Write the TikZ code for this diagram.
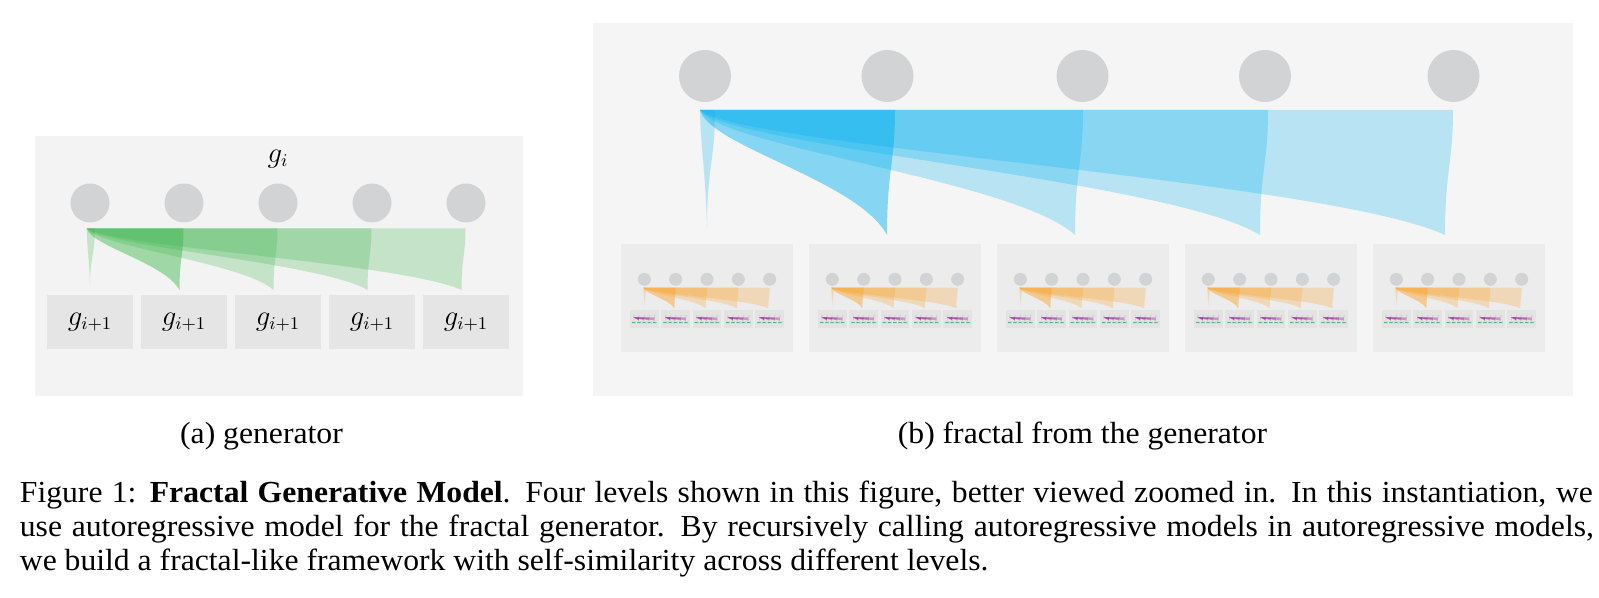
\documentclass[tikz,border=0pt]{standalone}
\usepackage[no-math]{fontspec}
\newfontfamily\capfont{Liberation Serif}[FakeStretch=1.035]
\usetikzlibrary{calc}

% colours
\definecolor{pagewhite}{RGB}{255,255,255}
\definecolor{panelA}{RGB}{243,243,243}
\definecolor{panelB}{RGB}{245,245,245}
\definecolor{boxA}{RGB}{229,229,229}
\definecolor{lvbox2}{RGB}{236,236,236}
\definecolor{lvbox3}{RGB}{227,227,227}
\definecolor{lvbox4}{RGB}{222,222,222}
\definecolor{lvbox5}{RGB}{215,222,218}
\definecolor{dotgray}{RGB}{209,211,212}
\definecolor{fanA}{RGB}{57,181,74}
\definecolor{fan1}{RGB}{0,176,240}
\definecolor{fan2}{RGB}{250,166,50}
\definecolor{fan3}{RGB}{146,39,143}
\definecolor{fan4}{RGB}{40,165,100}

\tikzset{
  dot/.style={fill=dotgray},
  capt/.style={font=\capfont\fontsize{15.3}{17}\selectfont, inner sep=0pt},
  mathlbl/.style={font=\fontsize{13.5}{16}\selectfont, inner sep=0pt},
  genbox/.style={fill=boxA, inner sep=0pt, minimum width=43pt, minimum height=27pt,
    font=\fontsize{13.5}{16}\selectfont},
}

% opacity factor of the fans of the current level
\def\fgopk{1}

% one curved fan: start x, top y, top-right x, tip x, tip y, opacity (colour in \fgcol)
\newcommand\fgFan[6]{%
  \pgfmathsetmacro\fgW{(#4)-(#1)}%
  \pgfmathsetmacro\fgH{(#5)-(#2)}%
  \pgfmathsetmacro\fgAy{(#2)+0.43*\fgH}%
  \pgfmathsetmacro\fgBy{(#2)+0.48*\fgH}%
  \pgfmathsetmacro\fgCx{(#1)+0.84*\fgW}%
  \pgfmathsetmacro\fgCy{(#2)+0.56*\fgH}%
  \pgfmathsetmacro\fgDx{(#1)+0.054*\fgW}%
  \pgfmathsetmacro\fgDy{(#2)+0.293*\fgH}%
  \pgfmathsetmacro\fgOp{min(0.95,(#6)*\fgopk)}%
  \fill[fill=\fgcol, fill opacity=\fgOp] (#1,#2) -- (#3,#2)
    .. controls (#3,\fgAy) and (#4,\fgBy) .. (#4,#5)
    .. controls (\fgCx,\fgCy) and (\fgDx,\fgDy) .. (#1,#2) -- cycle;
}

% the five fans of one generator:
% start x, top y, tip y, tip inset, spike top x, spike tip x, top-right x of fans 2..5
\newcommand\fgFans[7]{%
  \pgfmathsetmacro\fgSpY{(#3)-0.055*((#3)-(#2))}%
  \fgFan{#1}{#2}{#5}{#6}{\fgSpY}{0.25}%
  \foreach \fgTop [count=\fgi] in {#7}{%
    \ifnum\fgi=1 \def\fgop{0.45}\else\def\fgop{0.25}\fi
    \pgfmathsetmacro\fgTip{\fgTop-(#4)}%
    \fgFan{#1}{#2}{\fgTop}{\fgTip}{#3}{\fgop}%
  }%
}

% one generator box of level #1 (2..4), centred at the origin, 172 x 108
\newcommand\fgUnit[1]{%
  \fill[fill=lvbox#1] (-86,-54) rectangle (86,54);
  \foreach \k in {0,...,4} \fill[dot] ({-62.667+31.333*\k},-18.7) circle[radius=6.5];
  \def\fgcol{fan#1}%
  \ifcase#1 \or\or\def\fgopk{1.1}\or\def\fgopk{1.5}\or\def\fgopk{2.4}\fi
  \fgFans{-63.77}{-10.3}{10.3}{1.33}{-60.97}{-62.667}{-31.333,0,31.333,62.667}%
  \ifnum#1<4
    \edef\fgnext{\the\numexpr#1+1\relax}%
    \foreach \k in {0,...,4}{%
      \begin{scope}[shift={({-62.667+31.333*\k},21)},scale=0.16667]
        \expandafter\fgUnit\expandafter{\fgnext}
      \end{scope}}%
  \else
    \foreach \k in {0,...,4}
      \fill[fill=lvbox5] ({-62.667+31.333*\k-14.333},12) rectangle ({-62.667+31.333*\k+14.333},30);
  \fi
}

\begin{document}
\begin{tikzpicture}[x=0.5pt,y=-0.5pt]
  \fill[pagewhite] (0,0) rectangle (1599,598);
  \useasboundingbox (0,0) rectangle (1599,598);

  % ---------- (a) the generator ----------
  \fill[panelA] (35,136) rectangle (523,396);
  \node[mathlbl] (gi) at (278,159) {$g_i$};
  \foreach \k in {0,...,4} \fill[dot] ({90+94*\k},203) circle[radius=19.5];
  \def\fgcol{fanA}
  \fgFans{86.7}{228.3}{290}{4}{95}{90}{183.5,277.5,371.5,465.5}
  \foreach \k in {1,...,5}
    \node[genbox] (ga\k) at ({90+94*(\k-1)},322) {$g_{i+1}$};

  % ---------- (b) the fractal ----------
  \fill[panelB] (593,23) rectangle (1573,396);
  \foreach \cx in {705,887.5,1082.5,1265,1453.5} \fill[dot] (\cx,76) circle[radius=26];
  \def\fgcol{fan1}
  \fgFans{700}{110}{235}{8}{715}{707}{895,1083,1268,1453}
  \foreach \k in {0,...,4}{
    \begin{scope}[shift={({707+188*\k},298)}]
      \fgUnit{2}
    \end{scope}}

  % ---------- captions ----------
  \node[capt, anchor=base] (suba) at (261.5,443) {(a) generator};
  \node[capt, anchor=base] (subb) at (1082.5,443) {(b) fractal from the generator};
  \node[capt, anchor=base west] (cap1) at (19.5,502) {\makebox[786.5pt][s]{Figure 1: \textbf{Fractal Generative Model}. Four levels shown in this figure, better viewed zoomed in. In this instantiation, we}};
  \node[capt, anchor=base west] (cap2) at (19.5,536.5) {\makebox[787pt][s]{use autoregressive model for the fractal generator. By recursively calling autoregressive models in autoregressive models,}};
  \node[capt, anchor=base west] (cap3) at (19.5,570) {we build a fractal-like framework with self-similarity across different levels.};
\end{tikzpicture}
\end{document}
